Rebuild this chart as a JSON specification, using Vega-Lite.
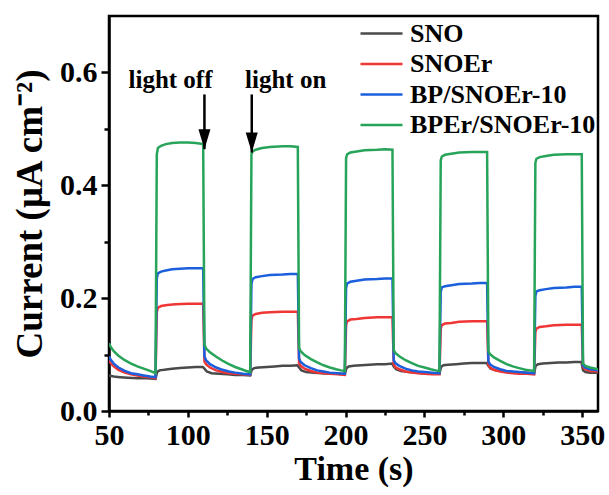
{
  "$schema": "https://vega.github.io/schema/vega-lite/v6.json",
  "width": 489,
  "height": 395,
  "autosize": {"type": "none"},
  "padding": {"left": 109, "top": 16, "right": 11, "bottom": 84},
  "background": "white",
  "config": {
    "view": {"stroke": "black", "strokeWidth": 2.5},
    "font": "Liberation Serif",
    "axis": {
      "grid": false,
      "domainColor": "black",
      "domainWidth": 2.5,
      "tickColor": "black",
      "tickWidth": 2.5,
      "labelFont": "Liberation Serif",
      "labelFontWeight": "bold",
      "labelColor": "black",
      "labelFontSize": 30,
      "titleFont": "Liberation Serif",
      "titleFontWeight": "bold",
      "titleColor": "black",
      "titleFontSize": 34,
      "labelOverlap": false,
      "labelFlush": false
    }
  },
  "datasets": {
    "traces": [
      {"series": "SNO", "time": 50, "current": 0.063},
      {"series": "SNO", "time": 53, "current": 0.061},
      {"series": "SNO", "time": 57, "current": 0.060},
      {"series": "SNO", "time": 62, "current": 0.059},
      {"series": "SNO", "time": 68, "current": 0.058},
      {"series": "SNO", "time": 74, "current": 0.058},
      {"series": "SNO", "time": 79.5, "current": 0.057},
      {"series": "SNO", "time": 80.5, "current": 0.069},
      {"series": "SNO", "time": 82, "current": 0.072},
      {"series": "SNO", "time": 85, "current": 0.073},
      {"series": "SNO", "time": 90, "current": 0.075},
      {"series": "SNO", "time": 95, "current": 0.076},
      {"series": "SNO", "time": 100, "current": 0.077},
      {"series": "SNO", "time": 105, "current": 0.078},
      {"series": "SNO", "time": 109.5, "current": 0.078},
      {"series": "SNO", "time": 110.5, "current": 0.075},
      {"series": "SNO", "time": 112, "current": 0.070},
      {"series": "SNO", "time": 115, "current": 0.067},
      {"series": "SNO", "time": 120, "current": 0.066},
      {"series": "SNO", "time": 125, "current": 0.065},
      {"series": "SNO", "time": 130, "current": 0.064},
      {"series": "SNO", "time": 135, "current": 0.064},
      {"series": "SNO", "time": 139.5, "current": 0.063},
      {"series": "SNO", "time": 140.5, "current": 0.073},
      {"series": "SNO", "time": 142, "current": 0.076},
      {"series": "SNO", "time": 145, "current": 0.077},
      {"series": "SNO", "time": 150, "current": 0.078},
      {"series": "SNO", "time": 155, "current": 0.079},
      {"series": "SNO", "time": 160, "current": 0.080},
      {"series": "SNO", "time": 165, "current": 0.080},
      {"series": "SNO", "time": 169.5, "current": 0.081},
      {"series": "SNO", "time": 170.5, "current": 0.077},
      {"series": "SNO", "time": 172, "current": 0.072},
      {"series": "SNO", "time": 175, "current": 0.069},
      {"series": "SNO", "time": 180, "current": 0.068},
      {"series": "SNO", "time": 185, "current": 0.067},
      {"series": "SNO", "time": 190, "current": 0.066},
      {"series": "SNO", "time": 195, "current": 0.066},
      {"series": "SNO", "time": 199.5, "current": 0.065},
      {"series": "SNO", "time": 200.5, "current": 0.076},
      {"series": "SNO", "time": 202, "current": 0.079},
      {"series": "SNO", "time": 205, "current": 0.080},
      {"series": "SNO", "time": 210, "current": 0.081},
      {"series": "SNO", "time": 215, "current": 0.082},
      {"series": "SNO", "time": 220, "current": 0.083},
      {"series": "SNO", "time": 225, "current": 0.083},
      {"series": "SNO", "time": 229.5, "current": 0.084},
      {"series": "SNO", "time": 230.5, "current": 0.079},
      {"series": "SNO", "time": 232, "current": 0.074},
      {"series": "SNO", "time": 235, "current": 0.071},
      {"series": "SNO", "time": 240, "current": 0.069},
      {"series": "SNO", "time": 245, "current": 0.068},
      {"series": "SNO", "time": 250, "current": 0.067},
      {"series": "SNO", "time": 255, "current": 0.067},
      {"series": "SNO", "time": 259.5, "current": 0.066},
      {"series": "SNO", "time": 260.5, "current": 0.078},
      {"series": "SNO", "time": 262, "current": 0.081},
      {"series": "SNO", "time": 265, "current": 0.082},
      {"series": "SNO", "time": 270, "current": 0.083},
      {"series": "SNO", "time": 275, "current": 0.084},
      {"series": "SNO", "time": 280, "current": 0.085},
      {"series": "SNO", "time": 285, "current": 0.085},
      {"series": "SNO", "time": 289.5, "current": 0.085},
      {"series": "SNO", "time": 290.5, "current": 0.080},
      {"series": "SNO", "time": 292, "current": 0.075},
      {"series": "SNO", "time": 295, "current": 0.072},
      {"series": "SNO", "time": 300, "current": 0.070},
      {"series": "SNO", "time": 305, "current": 0.069},
      {"series": "SNO", "time": 310, "current": 0.068},
      {"series": "SNO", "time": 315, "current": 0.068},
      {"series": "SNO", "time": 319.5, "current": 0.067},
      {"series": "SNO", "time": 320.5, "current": 0.080},
      {"series": "SNO", "time": 322, "current": 0.083},
      {"series": "SNO", "time": 325, "current": 0.084},
      {"series": "SNO", "time": 330, "current": 0.085},
      {"series": "SNO", "time": 335, "current": 0.086},
      {"series": "SNO", "time": 340, "current": 0.086},
      {"series": "SNO", "time": 345, "current": 0.087},
      {"series": "SNO", "time": 349.5, "current": 0.087},
      {"series": "SNO", "time": 350.5, "current": 0.072},
      {"series": "SNO", "time": 352, "current": 0.069},
      {"series": "SNO", "time": 355, "current": 0.068},
      {"series": "SNO", "time": 360, "current": 0.068},

      {"series": "SNOEr", "time": 50, "current": 0.090},
      {"series": "SNOEr", "time": 51, "current": 0.085},
      {"series": "SNOEr", "time": 53, "current": 0.079},
      {"series": "SNOEr", "time": 56, "current": 0.073},
      {"series": "SNOEr", "time": 60, "current": 0.068},
      {"series": "SNOEr", "time": 64, "current": 0.065},
      {"series": "SNOEr", "time": 68, "current": 0.063},
      {"series": "SNOEr", "time": 72, "current": 0.061},
      {"series": "SNOEr", "time": 76, "current": 0.060},
      {"series": "SNOEr", "time": 79.5, "current": 0.058},
      {"series": "SNOEr", "time": 80.3, "current": 0.175},
      {"series": "SNOEr", "time": 81, "current": 0.183},
      {"series": "SNOEr", "time": 83, "current": 0.186},
      {"series": "SNOEr", "time": 87, "current": 0.188},
      {"series": "SNOEr", "time": 92, "current": 0.189},
      {"series": "SNOEr", "time": 100, "current": 0.190},
      {"series": "SNOEr", "time": 105, "current": 0.190},
      {"series": "SNOEr", "time": 109.7, "current": 0.190},
      {"series": "SNOEr", "time": 110.5, "current": 0.088},
      {"series": "SNOEr", "time": 111.5, "current": 0.083},
      {"series": "SNOEr", "time": 114, "current": 0.077},
      {"series": "SNOEr", "time": 118, "current": 0.072},
      {"series": "SNOEr", "time": 122, "current": 0.069},
      {"series": "SNOEr", "time": 126, "current": 0.067},
      {"series": "SNOEr", "time": 130, "current": 0.066},
      {"series": "SNOEr", "time": 135, "current": 0.065},
      {"series": "SNOEr", "time": 139.5, "current": 0.064},
      {"series": "SNOEr", "time": 140.3, "current": 0.162},
      {"series": "SNOEr", "time": 141, "current": 0.169},
      {"series": "SNOEr", "time": 143, "current": 0.172},
      {"series": "SNOEr", "time": 147, "current": 0.174},
      {"series": "SNOEr", "time": 152, "current": 0.175},
      {"series": "SNOEr", "time": 160, "current": 0.176},
      {"series": "SNOEr", "time": 169.7, "current": 0.176},
      {"series": "SNOEr", "time": 170.5, "current": 0.085},
      {"series": "SNOEr", "time": 171.5, "current": 0.080},
      {"series": "SNOEr", "time": 174, "current": 0.075},
      {"series": "SNOEr", "time": 178, "current": 0.071},
      {"series": "SNOEr", "time": 182, "current": 0.068},
      {"series": "SNOEr", "time": 186, "current": 0.067},
      {"series": "SNOEr", "time": 190, "current": 0.066},
      {"series": "SNOEr", "time": 195, "current": 0.065},
      {"series": "SNOEr", "time": 199.5, "current": 0.064},
      {"series": "SNOEr", "time": 200.3, "current": 0.152},
      {"series": "SNOEr", "time": 201, "current": 0.159},
      {"series": "SNOEr", "time": 203, "current": 0.162},
      {"series": "SNOEr", "time": 207, "current": 0.163},
      {"series": "SNOEr", "time": 212, "current": 0.165},
      {"series": "SNOEr", "time": 220, "current": 0.166},
      {"series": "SNOEr", "time": 229.7, "current": 0.166},
      {"series": "SNOEr", "time": 230.5, "current": 0.083},
      {"series": "SNOEr", "time": 231.5, "current": 0.078},
      {"series": "SNOEr", "time": 234, "current": 0.074},
      {"series": "SNOEr", "time": 238, "current": 0.070},
      {"series": "SNOEr", "time": 242, "current": 0.068},
      {"series": "SNOEr", "time": 246, "current": 0.067},
      {"series": "SNOEr", "time": 250, "current": 0.066},
      {"series": "SNOEr", "time": 255, "current": 0.065},
      {"series": "SNOEr", "time": 259.5, "current": 0.065},
      {"series": "SNOEr", "time": 260.3, "current": 0.146},
      {"series": "SNOEr", "time": 261, "current": 0.152},
      {"series": "SNOEr", "time": 263, "current": 0.155},
      {"series": "SNOEr", "time": 267, "current": 0.156},
      {"series": "SNOEr", "time": 272, "current": 0.158},
      {"series": "SNOEr", "time": 280, "current": 0.159},
      {"series": "SNOEr", "time": 289.7, "current": 0.159},
      {"series": "SNOEr", "time": 290.5, "current": 0.082},
      {"series": "SNOEr", "time": 291.5, "current": 0.077},
      {"series": "SNOEr", "time": 294, "current": 0.073},
      {"series": "SNOEr", "time": 298, "current": 0.070},
      {"series": "SNOEr", "time": 302, "current": 0.068},
      {"series": "SNOEr", "time": 306, "current": 0.067},
      {"series": "SNOEr", "time": 310, "current": 0.066},
      {"series": "SNOEr", "time": 315, "current": 0.066},
      {"series": "SNOEr", "time": 319.5, "current": 0.065},
      {"series": "SNOEr", "time": 320.3, "current": 0.140},
      {"series": "SNOEr", "time": 321, "current": 0.146},
      {"series": "SNOEr", "time": 323, "current": 0.149},
      {"series": "SNOEr", "time": 327, "current": 0.150},
      {"series": "SNOEr", "time": 332, "current": 0.152},
      {"series": "SNOEr", "time": 340, "current": 0.153},
      {"series": "SNOEr", "time": 349.7, "current": 0.153},
      {"series": "SNOEr", "time": 350.5, "current": 0.078},
      {"series": "SNOEr", "time": 352, "current": 0.074},
      {"series": "SNOEr", "time": 355, "current": 0.071},
      {"series": "SNOEr", "time": 360, "current": 0.070},

      {"series": "BP/SNOEr-10", "time": 50, "current": 0.097},
      {"series": "BP/SNOEr-10", "time": 51, "current": 0.091},
      {"series": "BP/SNOEr-10", "time": 53, "current": 0.084},
      {"series": "BP/SNOEr-10", "time": 56, "current": 0.077},
      {"series": "BP/SNOEr-10", "time": 60, "current": 0.071},
      {"series": "BP/SNOEr-10", "time": 64, "current": 0.067},
      {"series": "BP/SNOEr-10", "time": 68, "current": 0.065},
      {"series": "BP/SNOEr-10", "time": 72, "current": 0.063},
      {"series": "BP/SNOEr-10", "time": 76, "current": 0.061},
      {"series": "BP/SNOEr-10", "time": 79.5, "current": 0.060},
      {"series": "BP/SNOEr-10", "time": 80.3, "current": 0.235},
      {"series": "BP/SNOEr-10", "time": 81, "current": 0.244},
      {"series": "BP/SNOEr-10", "time": 83, "current": 0.247},
      {"series": "BP/SNOEr-10", "time": 86, "current": 0.249},
      {"series": "BP/SNOEr-10", "time": 90, "current": 0.251},
      {"series": "BP/SNOEr-10", "time": 95, "current": 0.252},
      {"series": "BP/SNOEr-10", "time": 100, "current": 0.253},
      {"series": "BP/SNOEr-10", "time": 105, "current": 0.253},
      {"series": "BP/SNOEr-10", "time": 109.7, "current": 0.253},
      {"series": "BP/SNOEr-10", "time": 110.5, "current": 0.097},
      {"series": "BP/SNOEr-10", "time": 111.5, "current": 0.090},
      {"series": "BP/SNOEr-10", "time": 114, "current": 0.083},
      {"series": "BP/SNOEr-10", "time": 118, "current": 0.077},
      {"series": "BP/SNOEr-10", "time": 122, "current": 0.073},
      {"series": "BP/SNOEr-10", "time": 126, "current": 0.070},
      {"series": "BP/SNOEr-10", "time": 130, "current": 0.068},
      {"series": "BP/SNOEr-10", "time": 135, "current": 0.066},
      {"series": "BP/SNOEr-10", "time": 139.5, "current": 0.065},
      {"series": "BP/SNOEr-10", "time": 140.3, "current": 0.225},
      {"series": "BP/SNOEr-10", "time": 141, "current": 0.234},
      {"series": "BP/SNOEr-10", "time": 143, "current": 0.237},
      {"series": "BP/SNOEr-10", "time": 147, "current": 0.239},
      {"series": "BP/SNOEr-10", "time": 152, "current": 0.241},
      {"series": "BP/SNOEr-10", "time": 160, "current": 0.242},
      {"series": "BP/SNOEr-10", "time": 165, "current": 0.243},
      {"series": "BP/SNOEr-10", "time": 169.7, "current": 0.243},
      {"series": "BP/SNOEr-10", "time": 170.5, "current": 0.093},
      {"series": "BP/SNOEr-10", "time": 171.5, "current": 0.087},
      {"series": "BP/SNOEr-10", "time": 174, "current": 0.081},
      {"series": "BP/SNOEr-10", "time": 178, "current": 0.076},
      {"series": "BP/SNOEr-10", "time": 182, "current": 0.072},
      {"series": "BP/SNOEr-10", "time": 186, "current": 0.070},
      {"series": "BP/SNOEr-10", "time": 190, "current": 0.068},
      {"series": "BP/SNOEr-10", "time": 195, "current": 0.067},
      {"series": "BP/SNOEr-10", "time": 199.5, "current": 0.066},
      {"series": "BP/SNOEr-10", "time": 200.3, "current": 0.218},
      {"series": "BP/SNOEr-10", "time": 201, "current": 0.226},
      {"series": "BP/SNOEr-10", "time": 203, "current": 0.229},
      {"series": "BP/SNOEr-10", "time": 207, "current": 0.231},
      {"series": "BP/SNOEr-10", "time": 212, "current": 0.233},
      {"series": "BP/SNOEr-10", "time": 220, "current": 0.234},
      {"series": "BP/SNOEr-10", "time": 225, "current": 0.235},
      {"series": "BP/SNOEr-10", "time": 229.7, "current": 0.235},
      {"series": "BP/SNOEr-10", "time": 230.5, "current": 0.090},
      {"series": "BP/SNOEr-10", "time": 231.5, "current": 0.085},
      {"series": "BP/SNOEr-10", "time": 234, "current": 0.080},
      {"series": "BP/SNOEr-10", "time": 238, "current": 0.075},
      {"series": "BP/SNOEr-10", "time": 242, "current": 0.072},
      {"series": "BP/SNOEr-10", "time": 246, "current": 0.070},
      {"series": "BP/SNOEr-10", "time": 250, "current": 0.069},
      {"series": "BP/SNOEr-10", "time": 255, "current": 0.068},
      {"series": "BP/SNOEr-10", "time": 259.5, "current": 0.067},
      {"series": "BP/SNOEr-10", "time": 260.3, "current": 0.211},
      {"series": "BP/SNOEr-10", "time": 261, "current": 0.219},
      {"series": "BP/SNOEr-10", "time": 263, "current": 0.221},
      {"series": "BP/SNOEr-10", "time": 267, "current": 0.223},
      {"series": "BP/SNOEr-10", "time": 272, "current": 0.225},
      {"series": "BP/SNOEr-10", "time": 280, "current": 0.226},
      {"series": "BP/SNOEr-10", "time": 285, "current": 0.227},
      {"series": "BP/SNOEr-10", "time": 289.7, "current": 0.227},
      {"series": "BP/SNOEr-10", "time": 290.5, "current": 0.088},
      {"series": "BP/SNOEr-10", "time": 291.5, "current": 0.083},
      {"series": "BP/SNOEr-10", "time": 294, "current": 0.078},
      {"series": "BP/SNOEr-10", "time": 298, "current": 0.074},
      {"series": "BP/SNOEr-10", "time": 302, "current": 0.071},
      {"series": "BP/SNOEr-10", "time": 306, "current": 0.070},
      {"series": "BP/SNOEr-10", "time": 310, "current": 0.069},
      {"series": "BP/SNOEr-10", "time": 315, "current": 0.068},
      {"series": "BP/SNOEr-10", "time": 319.5, "current": 0.067},
      {"series": "BP/SNOEr-10", "time": 320.3, "current": 0.204},
      {"series": "BP/SNOEr-10", "time": 321, "current": 0.212},
      {"series": "BP/SNOEr-10", "time": 323, "current": 0.214},
      {"series": "BP/SNOEr-10", "time": 327, "current": 0.216},
      {"series": "BP/SNOEr-10", "time": 332, "current": 0.218},
      {"series": "BP/SNOEr-10", "time": 340, "current": 0.219},
      {"series": "BP/SNOEr-10", "time": 345, "current": 0.220},
      {"series": "BP/SNOEr-10", "time": 349.7, "current": 0.220},
      {"series": "BP/SNOEr-10", "time": 350.5, "current": 0.080},
      {"series": "BP/SNOEr-10", "time": 352, "current": 0.077},
      {"series": "BP/SNOEr-10", "time": 355, "current": 0.074},
      {"series": "BP/SNOEr-10", "time": 360, "current": 0.072},

      {"series": "BPEr/SNOEr-10", "time": 50, "current": 0.120},
      {"series": "BPEr/SNOEr-10", "time": 51, "current": 0.114},
      {"series": "BPEr/SNOEr-10", "time": 53, "current": 0.106},
      {"series": "BPEr/SNOEr-10", "time": 56, "current": 0.098},
      {"series": "BPEr/SNOEr-10", "time": 60, "current": 0.090},
      {"series": "BPEr/SNOEr-10", "time": 64, "current": 0.084},
      {"series": "BPEr/SNOEr-10", "time": 68, "current": 0.079},
      {"series": "BPEr/SNOEr-10", "time": 72, "current": 0.075},
      {"series": "BPEr/SNOEr-10", "time": 76, "current": 0.071},
      {"series": "BPEr/SNOEr-10", "time": 79.5, "current": 0.067},
      {"series": "BPEr/SNOEr-10", "time": 80.3, "current": 0.455},
      {"series": "BPEr/SNOEr-10", "time": 81, "current": 0.466},
      {"series": "BPEr/SNOEr-10", "time": 83, "current": 0.470},
      {"series": "BPEr/SNOEr-10", "time": 86, "current": 0.473},
      {"series": "BPEr/SNOEr-10", "time": 90, "current": 0.475},
      {"series": "BPEr/SNOEr-10", "time": 95, "current": 0.476},
      {"series": "BPEr/SNOEr-10", "time": 100, "current": 0.476},
      {"series": "BPEr/SNOEr-10", "time": 105, "current": 0.475},
      {"series": "BPEr/SNOEr-10", "time": 109.7, "current": 0.473},
      {"series": "BPEr/SNOEr-10", "time": 110.5, "current": 0.118},
      {"series": "BPEr/SNOEr-10", "time": 111.5, "current": 0.111},
      {"series": "BPEr/SNOEr-10", "time": 114, "current": 0.104},
      {"series": "BPEr/SNOEr-10", "time": 118, "current": 0.096},
      {"series": "BPEr/SNOEr-10", "time": 122, "current": 0.089},
      {"series": "BPEr/SNOEr-10", "time": 126, "current": 0.083},
      {"series": "BPEr/SNOEr-10", "time": 130, "current": 0.078},
      {"series": "BPEr/SNOEr-10", "time": 134, "current": 0.074},
      {"series": "BPEr/SNOEr-10", "time": 137, "current": 0.071},
      {"series": "BPEr/SNOEr-10", "time": 139.5, "current": 0.069},
      {"series": "BPEr/SNOEr-10", "time": 140.3, "current": 0.455},
      {"series": "BPEr/SNOEr-10", "time": 141, "current": 0.460},
      {"series": "BPEr/SNOEr-10", "time": 143, "current": 0.463},
      {"series": "BPEr/SNOEr-10", "time": 147, "current": 0.466},
      {"series": "BPEr/SNOEr-10", "time": 152, "current": 0.468},
      {"series": "BPEr/SNOEr-10", "time": 160, "current": 0.469},
      {"series": "BPEr/SNOEr-10", "time": 165, "current": 0.469},
      {"series": "BPEr/SNOEr-10", "time": 169.7, "current": 0.468},
      {"series": "BPEr/SNOEr-10", "time": 170.5, "current": 0.112},
      {"series": "BPEr/SNOEr-10", "time": 171.5, "current": 0.106},
      {"series": "BPEr/SNOEr-10", "time": 174, "current": 0.099},
      {"series": "BPEr/SNOEr-10", "time": 178, "current": 0.092},
      {"series": "BPEr/SNOEr-10", "time": 182, "current": 0.086},
      {"series": "BPEr/SNOEr-10", "time": 186, "current": 0.081},
      {"series": "BPEr/SNOEr-10", "time": 190, "current": 0.077},
      {"series": "BPEr/SNOEr-10", "time": 194, "current": 0.074},
      {"series": "BPEr/SNOEr-10", "time": 197, "current": 0.072},
      {"series": "BPEr/SNOEr-10", "time": 199.5, "current": 0.071},
      {"series": "BPEr/SNOEr-10", "time": 200.3, "current": 0.448},
      {"series": "BPEr/SNOEr-10", "time": 201, "current": 0.455},
      {"series": "BPEr/SNOEr-10", "time": 203, "current": 0.458},
      {"series": "BPEr/SNOEr-10", "time": 207, "current": 0.460},
      {"series": "BPEr/SNOEr-10", "time": 212, "current": 0.462},
      {"series": "BPEr/SNOEr-10", "time": 220, "current": 0.463},
      {"series": "BPEr/SNOEr-10", "time": 225, "current": 0.464},
      {"series": "BPEr/SNOEr-10", "time": 229.7, "current": 0.463},
      {"series": "BPEr/SNOEr-10", "time": 230.5, "current": 0.108},
      {"series": "BPEr/SNOEr-10", "time": 231.5, "current": 0.103},
      {"series": "BPEr/SNOEr-10", "time": 234, "current": 0.097},
      {"series": "BPEr/SNOEr-10", "time": 238, "current": 0.090},
      {"series": "BPEr/SNOEr-10", "time": 242, "current": 0.085},
      {"series": "BPEr/SNOEr-10", "time": 246, "current": 0.080},
      {"series": "BPEr/SNOEr-10", "time": 250, "current": 0.077},
      {"series": "BPEr/SNOEr-10", "time": 254, "current": 0.074},
      {"series": "BPEr/SNOEr-10", "time": 257, "current": 0.072},
      {"series": "BPEr/SNOEr-10", "time": 259.5, "current": 0.071},
      {"series": "BPEr/SNOEr-10", "time": 260.3, "current": 0.444},
      {"series": "BPEr/SNOEr-10", "time": 261, "current": 0.451},
      {"series": "BPEr/SNOEr-10", "time": 263, "current": 0.454},
      {"series": "BPEr/SNOEr-10", "time": 267, "current": 0.456},
      {"series": "BPEr/SNOEr-10", "time": 272, "current": 0.458},
      {"series": "BPEr/SNOEr-10", "time": 280, "current": 0.459},
      {"series": "BPEr/SNOEr-10", "time": 285, "current": 0.459},
      {"series": "BPEr/SNOEr-10", "time": 289.7, "current": 0.459},
      {"series": "BPEr/SNOEr-10", "time": 290.5, "current": 0.106},
      {"series": "BPEr/SNOEr-10", "time": 291.5, "current": 0.101},
      {"series": "BPEr/SNOEr-10", "time": 294, "current": 0.095},
      {"series": "BPEr/SNOEr-10", "time": 298, "current": 0.089},
      {"series": "BPEr/SNOEr-10", "time": 302, "current": 0.083},
      {"series": "BPEr/SNOEr-10", "time": 306, "current": 0.079},
      {"series": "BPEr/SNOEr-10", "time": 310, "current": 0.076},
      {"series": "BPEr/SNOEr-10", "time": 314, "current": 0.073},
      {"series": "BPEr/SNOEr-10", "time": 317, "current": 0.072},
      {"series": "BPEr/SNOEr-10", "time": 319.5, "current": 0.071},
      {"series": "BPEr/SNOEr-10", "time": 320.3, "current": 0.440},
      {"series": "BPEr/SNOEr-10", "time": 321, "current": 0.447},
      {"series": "BPEr/SNOEr-10", "time": 323, "current": 0.450},
      {"series": "BPEr/SNOEr-10", "time": 327, "current": 0.452},
      {"series": "BPEr/SNOEr-10", "time": 332, "current": 0.454},
      {"series": "BPEr/SNOEr-10", "time": 340, "current": 0.455},
      {"series": "BPEr/SNOEr-10", "time": 345, "current": 0.455},
      {"series": "BPEr/SNOEr-10", "time": 349.7, "current": 0.455},
      {"series": "BPEr/SNOEr-10", "time": 350.5, "current": 0.084},
      {"series": "BPEr/SNOEr-10", "time": 352, "current": 0.080},
      {"series": "BPEr/SNOEr-10", "time": 355, "current": 0.077},
      {"series": "BPEr/SNOEr-10", "time": 360, "current": 0.074}
    ],
    "arrows": [
      {"time": 110.5, "start": 0.561, "end": 0.464},
      {"time": 140.5, "start": 0.561, "end": 0.458}
    ],
    "notes": [
      {"time": 89, "current": 0.573, "text": "light off"},
      {"time": 162, "current": 0.573, "text": "light on"}
    ]
  },
  "layer": [
    {
      "data": {"name": "traces"},
      "mark": {"type": "line", "strokeWidth": 2.5, "clip": true},
      "encoding": {
        "x": {
          "field": "time",
          "type": "quantitative",
          "scale": {"domain": [50, 360], "nice": false, "zero": false},
          "axis": {
            "title": "Time (s)",
            "values": [50, 75, 100, 125, 150, 175, 200, 225, 250, 275, 300, 325, 350],
            "labelExpr": "datum.value % 50 === 0 ? datum.label : ''",
            "tickSize": {"condition": {"test": "datum.value % 50 !== 0", "value": 4}, "value": 6},
            "labelPadding": 3,
            "titlePadding": 2
          }
        },
        "y": {
          "field": "current",
          "type": "quantitative",
          "scale": {"domain": [0, 0.7], "nice": false},
          "axis": {
            "title": "Current (μA cm⁻²)",
            "titleFontSize": 37,
            "values": [0, 0.1, 0.2, 0.3, 0.4, 0.5, 0.6],
            "format": ".1f",
            "labelExpr": "round(datum.value * 10) % 2 === 0 ? datum.label : ''",
            "tickSize": {"condition": {"test": "round(datum.value * 10) % 2 !== 0", "value": 5}, "value": 8},
            "labelPadding": 4,
            "titlePadding": 10
          }
        },
        "color": {
          "field": "series",
          "type": "nominal",
          "scale": {
            "domain": ["SNO", "SNOEr", "BP/SNOEr-10", "BPEr/SNOEr-10"],
            "range": ["#4a4a4a", "#f03535", "#1c5fdc", "#27a459"]
          },
          "legend": {
            "title": null,
            "orient": "none",
            "legendX": 257,
            "legendY": 2,
            "padding": 0,
            "symbolType": "M-1.5,0L1.5,0",
            "symbolSize": 784,
            "symbolStrokeWidth": 2.5,
            "symbolFillColor": "transparent",
            "labelFont": "Liberation Serif",
            "labelFontWeight": "bold",
            "labelFontSize": 26,
            "labelColor": "black",
            "labelLimit": 0,
            "labelOffset": 13,
            "rowPadding": 1.5
          }
        }
      }
    },
    {
      "data": {"name": "arrows"},
      "mark": {"type": "rule", "color": "black", "strokeWidth": 2.5},
      "encoding": {
        "x": {"field": "time", "type": "quantitative"},
        "y": {"field": "start", "type": "quantitative"},
        "y2": {"field": "end"}
      }
    },
    {
      "data": {"name": "arrows"},
      "mark": {
        "type": "point",
        "shape": "M-0.6,-1L0.6,-1L0,1Z",
        "filled": true,
        "color": "black",
        "opacity": 1,
        "size": 400,
        "yOffset": -10
      },
      "encoding": {
        "x": {"field": "time", "type": "quantitative"},
        "y": {"field": "end", "type": "quantitative"}
      }
    },
    {
      "data": {"name": "notes"},
      "mark": {
        "type": "text",
        "font": "Liberation Serif",
        "fontWeight": "bold",
        "fontSize": 25,
        "color": "black",
        "baseline": "alphabetic",
        "align": "center"
      },
      "encoding": {
        "x": {"field": "time", "type": "quantitative"},
        "y": {"field": "current", "type": "quantitative"},
        "text": {"field": "text"}
      }
    }
  ]
}
